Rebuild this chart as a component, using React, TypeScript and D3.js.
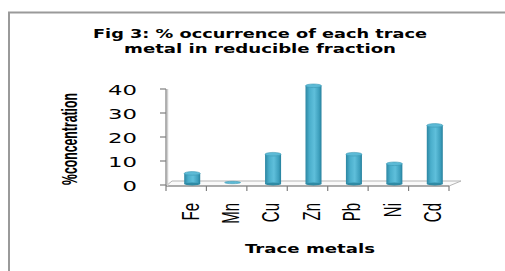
import React from 'react'
import * as d3 from 'd3'

const metals = ['Fe', 'Mn', 'Cu', 'Zn', 'Pb', 'Ni', 'Cd']
const occurrence = [4, 0.2, 12, 40.5, 12, 8, 24]
const yTicks = [0, 10, 20, 30, 40]
const titleLines = ['Fig 3: % occurrence of each trace', 'metal in reducible fraction']

const W = 505
const H = 271

const App = () => {
  const x = d3.scaleBand<string>().domain(metals).range([166, 449])
  const y = d3.scaleLinear().domain([0, 40]).range([185, 89])

  const depthX = 10
  const depthY = 4
  const barW = 16
  const barShift = 6
  const floorFront = 186

  const ticksX = metals.map(m => x(m) as number).concat([449])

  return (
    <svg width={W} height={H} style={{ position: 'absolute', left: 0, top: 0, background: '#fff' }}>
      <defs>
        <linearGradient id="barGrad" x1="0" x2="1" y1="0" y2="0">
          <stop offset="0" stopColor="#2c86a2" />
          <stop offset="0.25" stopColor="#4aaecb" />
          <stop offset="0.55" stopColor="#5fbfdb" />
          <stop offset="0.85" stopColor="#3d9fbd" />
          <stop offset="1" stopColor="#26809c" />
        </linearGradient>
      </defs>

      {/* outer frame */}
      <rect x={9} y={12.5} width={520} height={280} fill="none" stroke="#9a9a9a" strokeWidth={2} />

      {/* title */}
      {titleLines.map((t, i) => (
        <text key={t} x={260} y={38 + i * 15} textAnchor="middle"
          fontFamily="DejaVu Sans" fontWeight="bold" fontSize={12.5}
          textLength={i === 0 ? 334 : 272} lengthAdjust="spacingAndGlyphs" fill="#000">{t}</text>
      ))}

      {/* floor */}
      <polygon
        points={`166,${floorFront} 449,${floorFront} ${449 + depthX + 2},${floorFront - depthY - 1} ${166 + depthX - 4},${floorFront - depthY - 1}`}
        fill="#fafafa" stroke="#b5b5b5" strokeWidth={1} />
      <line x1={166} x2={449} y1={floorFront} y2={floorFront} stroke="#7f7f7f" strokeWidth={1.2} />

      {/* y axis */}
      <line x1={167.5} x2={167.5} y1={y(40)} y2={floorFront} stroke="#d0d0d0" strokeWidth={1.5} />
      <line x1={166} x2={166} y1={y(40)} y2={floorFront} stroke="#7f7f7f" strokeWidth={1.2} />
      {yTicks.map(t => (
        <g key={t}>
          <line x1={160} x2={166} y1={y(t)} y2={y(t)} stroke="#7f7f7f" strokeWidth={1.2} />
          <text x={137} y={y(t) + 6} textAnchor="end" fontFamily="DejaVu Sans" fontSize={13.5}
            textLength={String(t).length * 14.5} lengthAdjust="spacingAndGlyphs" fill="#000">{t}</text>
        </g>
      ))}

      {/* x ticks */}
      {ticksX.map((tx, i) => (
        <line key={i} x1={tx} x2={tx} y1={floorFront} y2={floorFront + 5} stroke="#7f7f7f" strokeWidth={1.2} />
      ))}

      {/* bars */}
      {metals.map((m, i) => {
        const cx = (x(m) as number) + x.bandwidth() / 2 + barShift
        const top = y(occurrence[i]) - 2
        const base = floorFront - 2
        const h = base - top
        return (
          <g key={m}>
            {h > 2 && <rect x={cx - barW / 2} y={top} width={barW} height={h} fill="url(#barGrad)" />}
            {h > 2 && <ellipse cx={cx} cy={base} rx={barW / 2} ry={1.5} fill="#2f8ba5" />}
            <ellipse cx={cx} cy={top} rx={barW / 2} ry={h > 2 ? 1.8 : 1.2} fill="#5cbad6" stroke="#3a98b4" strokeWidth={0.6} />
          </g>
        )
      })}

      {/* category labels */}
      {metals.map(m => (
        <text key={m} transform={`translate(${(x(m) as number) + x.bandwidth() / 2 + 4},203) scale(1.6,1) rotate(-90)`}
          textAnchor="end" dominantBaseline="central" fontFamily="Liberation Sans" fontSize={15} fill="#000">{m}</text>
      ))}

      {/* axis titles */}
      <text transform="translate(70,139) scale(1.8,1) rotate(-90)" textAnchor="middle" dominantBaseline="central"
        fontFamily="Liberation Sans" fontWeight="bold" fontSize={12.5}
        textLength={92} lengthAdjust="spacingAndGlyphs" fill="#000">%concentration</text>
      <text x={310} y={253} textAnchor="middle" fontFamily="DejaVu Sans" fontWeight="bold" fontSize={12.5}
        textLength={130} lengthAdjust="spacingAndGlyphs" fill="#000">Trace metals</text>
    </svg>
  )
}

export default App
